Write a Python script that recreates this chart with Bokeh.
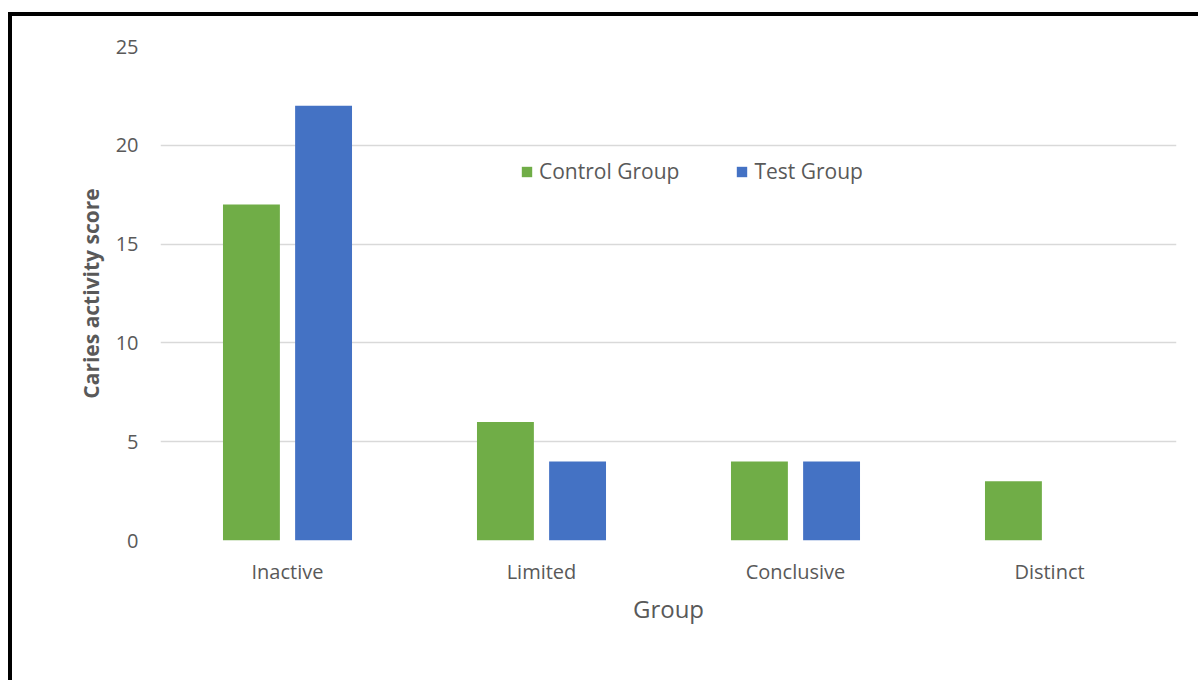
from bokeh.plotting import figure
from bokeh.models import FactorRange, Range1d, FixedTicker, Legend, LegendItem, ColumnDataSource
from bokeh.transform import dodge
from bokeh.embed import file_html
from bokeh.resources import INLINE

categories = ["Inactive", "Limited", "Conclusive", "Distinct"]
control_group = [17, 6, 4, 3]
test_group = [22, 4, 4, 0]
y_ticks = [0, 5, 10, 15, 20, 25]

FONT = "Open Sans"
GRAY = "#595959"

src = ColumnDataSource(dict(cat=categories, control=control_group, test=test_group))

p = figure(
    x_range=FactorRange(*categories, range_padding=0),
    y_range=Range1d(0, 25),
    width=1190, height=668,
    output_backend="svg", toolbar_location=None,
    min_border_left=148, min_border_right=26, min_border_top=30, min_border_bottom=144,
)
p.styles = {"border-left": "4px solid black", "border-top": "4px solid black",
            "margin-left": "8px", "margin-top": "12px"}
p.outline_line_color = None

r1 = p.vbar(x=dodge("cat", -0.142, range=p.x_range), top="control", width=0.224,
            source=src, fill_color="#70AD47", line_color=None)
r2 = p.vbar(x=dodge("cat", 0.142, range=p.x_range), top="test", width=0.224,
            source=src, fill_color="#4472C4", line_color=None)

p.yaxis.ticker = FixedTicker(ticks=y_ticks)
p.yaxis.axis_line_color = None
p.yaxis.major_tick_line_color = None
p.yaxis.minor_tick_line_color = None
p.yaxis.major_tick_out = 0
p.yaxis.minor_tick_out = 0
p.yaxis.major_label_standoff = 22
p.yaxis.axis_label = "Caries activity score"
p.yaxis.axis_label_text_font_style = "bold"
p.yaxis.axis_label_text_font_size = "21px"
p.yaxis.axis_label_standoff = 8

p.xaxis.axis_line_color = None
p.xaxis.major_tick_line_color = None
p.xaxis.minor_tick_line_color = None
p.xaxis.major_tick_out = 0
p.xaxis.minor_tick_out = 0
p.xaxis.major_label_standoff = 17
p.xaxis.axis_label = "Group"
p.xaxis.axis_label_text_font_style = "normal"
p.xaxis.axis_label_text_font_size = "24px"
p.xaxis.axis_label_standoff = 4

for ax in (p.xaxis, p.yaxis):
    ax.major_label_text_font = FONT
    ax.major_label_text_font_size = "20px"
    ax.major_label_text_color = GRAY
    ax.axis_label_text_font = FONT
    ax.axis_label_text_color = GRAY

p.xgrid.grid_line_color = None
p.ygrid.grid_line_color = "#D9D9D9"
p.ygrid.grid_line_width = 1.5

legend = Legend(items=[LegendItem(label="Control Group", renderers=[r1]),
                       LegendItem(label="Test Group", renderers=[r2])],
                orientation="horizontal", location=(360, 355))
legend.padding = 0
legend.margin = 0
legend.spacing = 56
legend.border_line_color = None
legend.background_fill_alpha = 0
legend.glyph_width = 13
legend.glyph_height = 13
legend.label_standoff = 6
legend.label_height = 20
legend.label_text_font = FONT
legend.label_text_font_size = "21px"
legend.label_text_color = GRAY
p.add_layout(legend)

open("out.html", "w").write(file_html(p, INLINE))
